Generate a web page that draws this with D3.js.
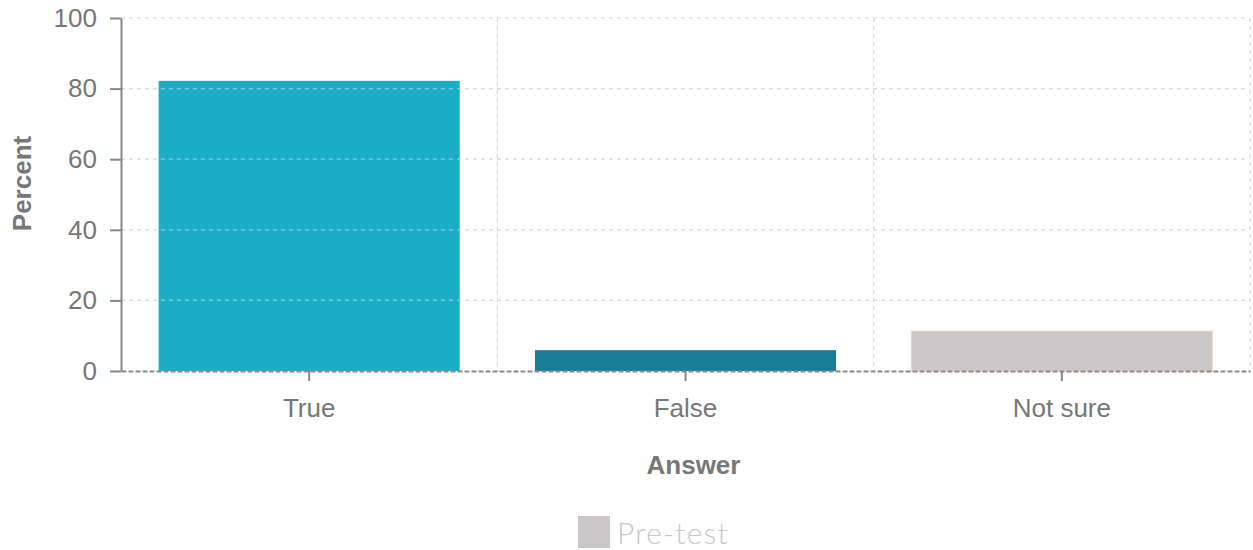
<!DOCTYPE html>
<html><head><meta charset="utf-8">
<script src="https://cdn.jsdelivr.net/npm/d3@7"></script>
<style>body{margin:0;background:#fff}svg{display:block}</style>
</head><body>
<script>
const categories = ["True", "False", "Not sure"];
const preTest = [82.2, 5.9, 11.3];
const barColors = ["#1aaec6", "#1a7d97", "#c9c7c8"];
const yTicks = [0, 20, 40, 60, 80, 100];
const seriesName = "Pre-test";

const W = 1253, H = 550;
const m = {left: 121, right: 3, top: 18, bottom: 179};
const iw = W - m.left - m.right, ih = H - m.top - m.bottom;
const svg = d3.select("body").append("svg").attr("width", W).attr("height", H);
const g = svg.append("g").attr("transform", `translate(${m.left},${m.top})`);
const x = d3.scaleBand().domain(categories).range([0, iw]).paddingInner(0.2).paddingOuter(0.1);
const y = d3.scaleLinear().domain([0, 100]).range([ih, 0]);
const font = "'Liberation Sans', Arial, Helvetica, sans-serif";

// bars
g.selectAll("rect.bar").data(categories).join("rect").attr("class", "bar")
  .attr("x", d => x(d)).attr("width", x.bandwidth())
  .attr("y", (d, i) => y(preTest[i])).attr("height", (d, i) => ih - y(preTest[i]))
  .attr("fill", (d, i) => barColors[i])
  .attr("stroke", (d, i) => i === 2 ? "#f3d3c3" : "none").attr("stroke-width", 1);

// grid
const grid = g.append("g").attr("stroke", "#c8c8c8").attr("stroke-opacity", 0.7)
  .attr("stroke-dasharray", "4,4").attr("stroke-width", 1.2);
grid.selectAll("line.h").data(yTicks.filter(t => t > 0)).join("line")
  .attr("x1", 0).attr("x2", iw).attr("y1", d => y(d)).attr("y2", d => y(d));
const step = x.step();
grid.selectAll("line.v").data(categories).join("line")
  .attr("x1", d => x(d) - x.paddingOuter() * step + step).attr("x2", d => x(d) - x.paddingOuter() * step + step)
  .attr("y1", 0).attr("y2", ih);

// x axis
const xa = g.append("g").attr("transform", `translate(0,${ih})`)
  .call(d3.axisBottom(x).tickSize(10).tickSizeOuter(0).tickPadding(18));
xa.select(".domain").attr("stroke", "#8a8a8a").attr("stroke-width", 2).attr("stroke-dasharray", "5,2");
xa.selectAll(".tick line").attr("stroke", "#888").attr("stroke-width", 2);
xa.selectAll(".tick text").attr("fill", "#777").attr("font-size", 26).attr("font-family", font);

// y axis
const ya = g.append("g").call(d3.axisLeft(y).tickValues(yTicks).tickSize(11).tickPadding(13).tickSizeOuter(0));
ya.select(".domain").attr("stroke", "#888").attr("stroke-width", 2);
ya.selectAll(".tick line").attr("stroke", "#888").attr("stroke-width", 2);
ya.selectAll(".tick text").attr("fill", "#777").attr("font-size", 26).attr("font-family", font);

// titles
svg.append("text").attr("x", m.left + iw / 2 + 8).attr("y", 474).attr("text-anchor", "middle")
  .attr("font-family", font).attr("font-weight", "bold").attr("font-size", 26).attr("fill", "#777").text("Answer");
svg.append("text").attr("transform", `translate(31,${m.top + ih / 2 - 11}) rotate(-90)`).attr("text-anchor", "middle")
  .attr("font-family", font).attr("font-weight", "bold").attr("font-size", 26).attr("fill", "#777").text("Percent");

// legend
const lg = svg.append("g");
lg.append("rect").attr("x", 578).attr("y", 516).attr("width", 32).attr("height", 32).attr("fill", barColors[2]);
lg.append("text").attr("x", 617).attr("y", 544).attr("font-family", "Lato, 'Open Sans', sans-serif").attr("font-weight", 300)
  .attr("font-size", 30).attr("letter-spacing", 1.2).attr("fill", "#c8c8c8").text(seriesName);
</script>
</body></html>
